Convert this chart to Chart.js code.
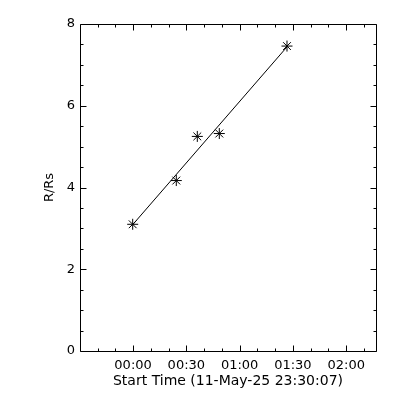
<!DOCTYPE html>
<html>
<head>
<meta charset="utf-8">
<script src="https://cdn.jsdelivr.net/npm/chart.js@4"></script>
<style>
  html, body { margin: 0; padding: 0; background: #fff; }
  canvas { display: block; }
</style>
</head>
<body>
<canvas id="chart" width="400" height="400"></canvas>
<script>
// seconds after start time 11-May-25 23:30:07
var timeSec = [1780, 3253, 3963, 4706, 6993];
var rRs = [3.10, 4.17, 5.25, 5.32, 7.46];

// straight fit through the points
var fitSec = [1780, 6993];
var fitRRs = [3.09, 7.44];

var xTickValues = [1793, 3593, 5393, 7193, 8993];
var xTickLabels = ["00:00", "00:30", "01:00", "01:30", "02:00"];
var xMinorStep = 600;
var yTickLabels = [0, 2, 4, 6, 8];

function toPoints(xs, ys) {
    return xs.map(function(x, i) { return { x: x, y: ys[i] }; });
}

// IDL style box with inward ticks on all four sides
var boxTicks = {
    id: "boxTicks",
    afterDraw: function(chart) {
        var ctx = chart.ctx;
        var a = chart.chartArea;
        var xs = chart.scales.x, ys = chart.scales.y;
        var l = Math.round(a.left) + 0.5, r = Math.round(a.right) + 0.5;
        var t = Math.round(a.top) + 0.5, b = Math.round(a.bottom) + 0.5;
        ctx.save();
        ctx.strokeStyle = "#000";
        ctx.lineWidth = 1;
        ctx.beginPath();
        ctx.rect(l, t, r - l, b - t);
        xs.ticks.forEach(function(tk) {
            var px = Math.round(xs.getPixelForValue(tk.value)) + 0.5;
            var len = xTickValues.indexOf(tk.value) >= 0 ? 6 : 3;
            ctx.moveTo(px, b); ctx.lineTo(px, b - len);
            ctx.moveTo(px, t); ctx.lineTo(px, t + len);
        });
        ys.ticks.forEach(function(tk) {
            var py = Math.round(ys.getPixelForValue(tk.value)) + 0.5;
            var len = yTickLabels.indexOf(tk.value) >= 0 ? 6 : 3;
            ctx.moveTo(l, py); ctx.lineTo(l + len, py);
            ctx.moveTo(r, py); ctx.lineTo(r - len, py);
        });
        ctx.stroke();
        ctx.restore();
    }
};

var font = { family: "DejaVu Sans", size: 13 };

new Chart(document.getElementById("chart"), {
    type: "scatter",
    data: {
        datasets: [
            {
                type: "line",
                data: toPoints(fitSec, fitRRs),
                borderColor: "#000",
                borderWidth: 1,
                pointRadius: 0,
                fill: false
            },
            {
                data: toPoints(timeSec, rRs),
                pointStyle: "star",
                pointRadius: 5.5,
                borderColor: "#000",
                backgroundColor: "#000",
                pointBorderWidth: 1
            }
        ]
    },
    options: {
        responsive: false,
        animation: false,
        devicePixelRatio: 1,
        layout: { padding: { left: 0, right: 24, top: 24, bottom: 0 } },
        plugins: { legend: { display: false }, tooltip: { enabled: false } },
        scales: {
            x: {
                type: "linear",
                min: 0,
                max: 10000,
                grid: { display: false, drawTicks: false },
                border: { display: false },
                afterBuildTicks: function(scale) {
                    var ticks = [];
                    for (var v = xTickValues[0] - 2 * xMinorStep; v <= scale.max; v += xMinorStep) {
                        if (v >= scale.min) ticks.push({ value: v });
                    }
                    scale.ticks = ticks;
                },
                ticks: {
                    autoSkip: false,
                    maxRotation: 0,
                    padding: 7,
                    color: "#000",
                    font: font,
                    callback: function(v) {
                        var i = xTickValues.indexOf(v);
                        return i >= 0 ? xTickLabels[i] : "";
                    }
                },
                title: {
                    display: true,
                    text: "Start Time (11-May-25 23:30:07)",
                    color: "#000",
                    font: { family: "DejaVu Sans", size: 14 },
                    padding: { top: 0, bottom: 10 }
                },
                afterFit: function(scale) { scale.height = 49; }
            },
            y: {
                min: 0,
                max: 8,
                grid: { display: false, drawTicks: false },
                border: { display: false },
                ticks: {
                    stepSize: 0.5,
                    autoSkip: false,
                    padding: 5,
                    color: "#000",
                    font: font,
                    callback: function(v) {
                        return yTickLabels.indexOf(v) >= 0 ? String(v) : "";
                    }
                },
                title: {
                    display: true,
                    text: "R/Rs",
                    color: "#000",
                    font: font,
                    padding: { top: 42, bottom: 0 }
                },
                afterFit: function(scale) { scale.width = 80; }
            }
        }
    },
    plugins: [boxTicks]
});
</script>
</body>
</html>
